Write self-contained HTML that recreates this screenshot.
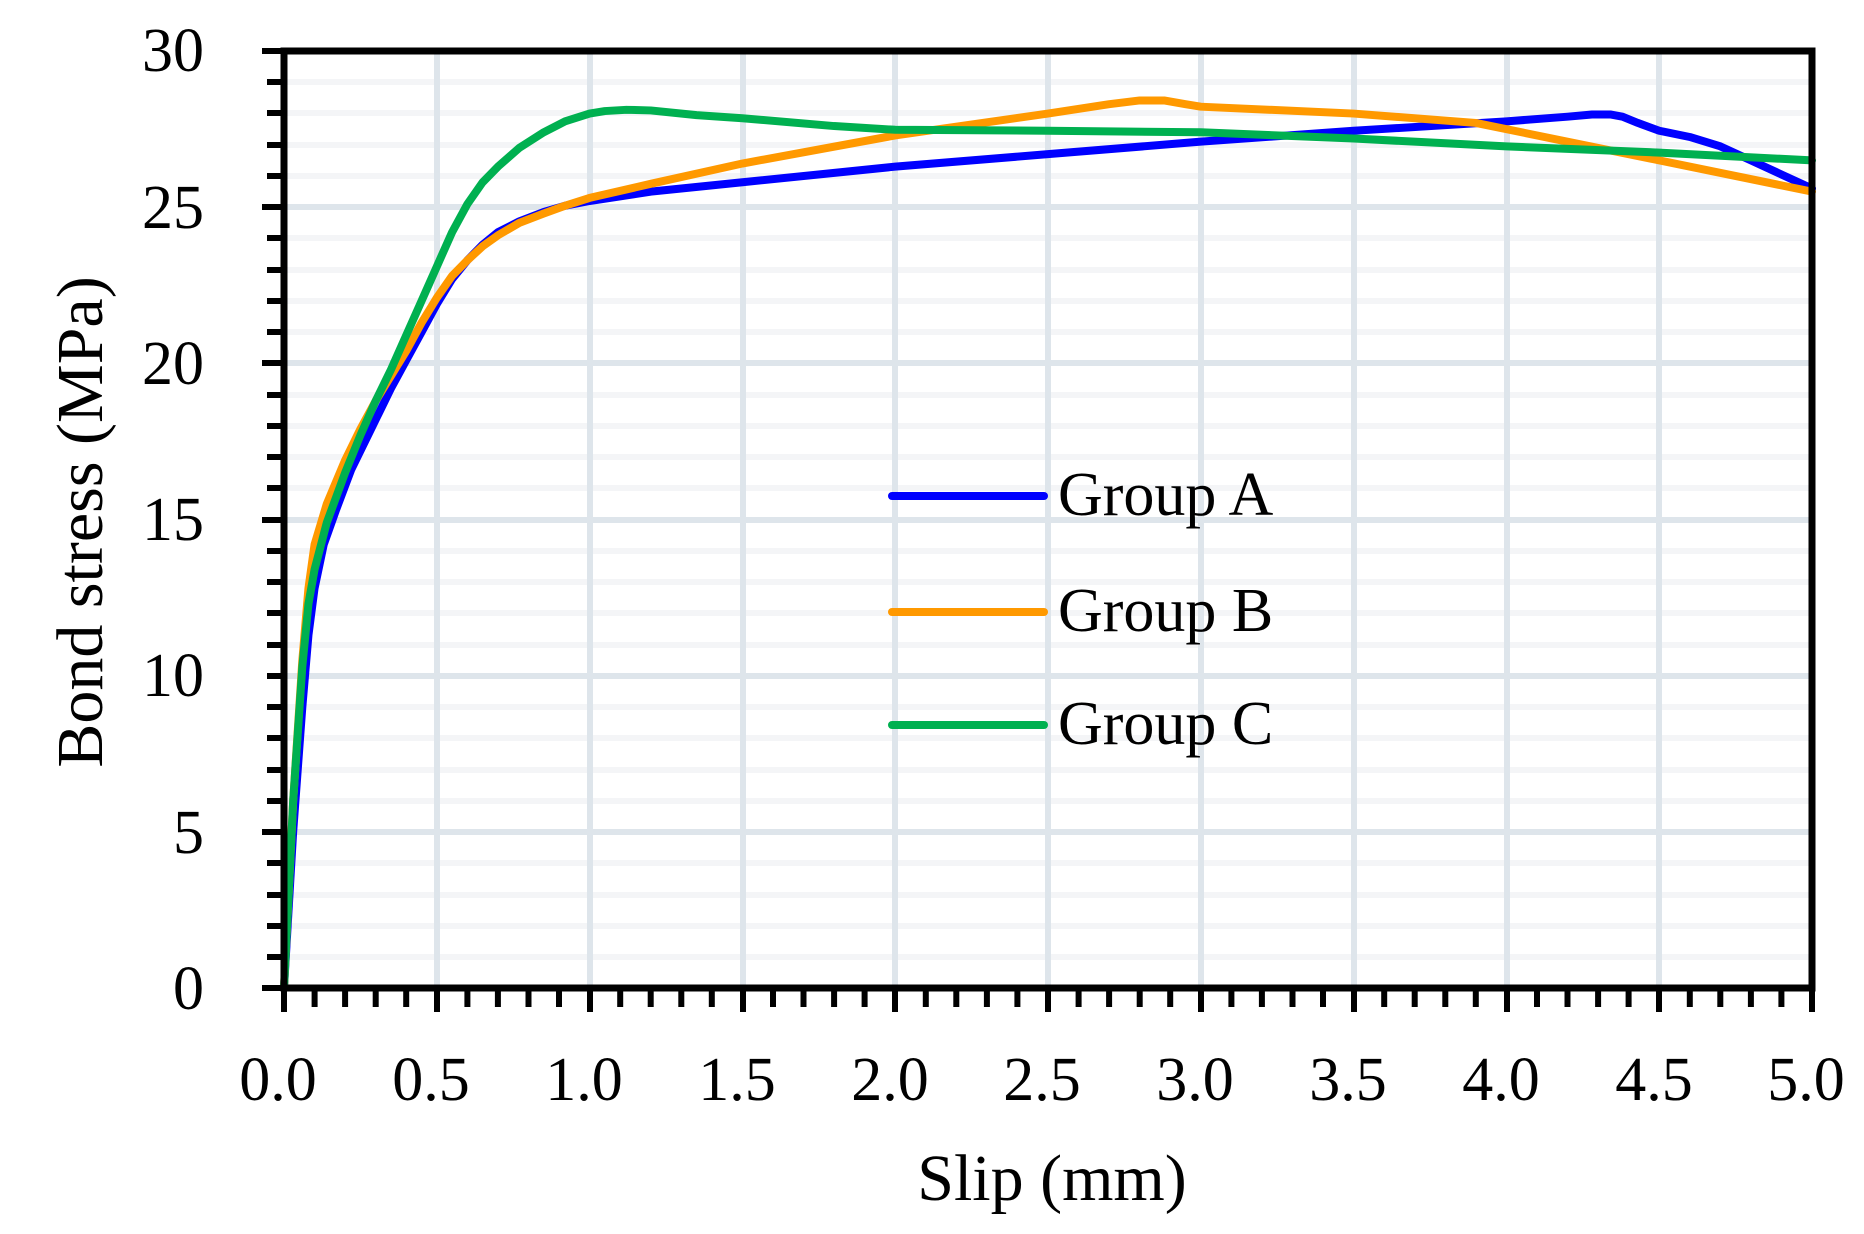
<!DOCTYPE html>
<html><head><meta charset="utf-8"><style>html,body{margin:0;padding:0;background:#fff}svg{display:block}</style></head>
<body>
<svg width="1864" height="1234" viewBox="0 0 1864 1234" xmlns="http://www.w3.org/2000/svg" font-family="'Liberation Serif', serif" fill="#000">
<g stroke="#f4f5f7" stroke-width="6">
<path d="M287 82H1809M287 113H1809M287 145H1809M287 176H1809M287 238H1809M287 270H1809M287 301H1809M287 332H1809M287 395H1809M287 426H1809M287 457H1809M287 488H1809M287 551H1809M287 582H1809M287 613H1809M287 645H1809M287 707H1809M287 738H1809M287 770H1809M287 801H1809M287 863H1809M287 895H1809M287 926H1809M287 957H1809"/>
</g>
<g stroke="#dee5eb" stroke-width="6">
<path d="M287 207H1809M287 363H1809M287 520H1809M287 676H1809M287 832H1809"/>
<path d="M437 54V985M590 54V985M743 54V985M895 54V985M1048 54V985M1201 54V985M1354 54V985M1507 54V985M1659 54V985"/>
</g>
<g fill="none" stroke-width="8" stroke-linejoin="round" stroke-linecap="round">
<g transform="translate(284,988) scale(305.6,-31.23)">
<polyline vector-effect="non-scaling-stroke" stroke="#0000ff" points="0,0 0.03,5 0.06,9 0.08,11.3 0.1,12.8 0.13,14.2 0.17,15.3 0.22,16.6 0.28,17.8 0.35,19.2 0.4,20.1 0.45,21 0.5,21.9 0.55,22.7 0.6,23.3 0.65,23.8 0.7,24.2 0.77,24.55 0.85,24.85 0.92,25.05 1.0,25.2 1.2,25.5 1.5,25.8 2.0,26.3 2.5,26.7 3.0,27.1 3.5,27.45 4.0,27.75 4.2,27.9 4.28,27.97 4.34,27.97 4.38,27.9 4.43,27.7 4.5,27.45 4.6,27.25 4.7,26.95 4.8,26.5 4.9,26.05 5.0,25.6"/>
<polyline vector-effect="non-scaling-stroke" stroke="#ff9900" points="0,0 0.03,6 0.06,10.5 0.08,12.8 0.1,14.2 0.14,15.5 0.2,16.9 0.25,17.9 0.3,18.8 0.35,19.6 0.4,20.4 0.45,21.3 0.5,22.1 0.55,22.8 0.6,23.3 0.65,23.75 0.7,24.1 0.77,24.5 0.85,24.8 0.92,25.05 1.0,25.3 1.2,25.75 1.5,26.4 2.0,27.3 2.5,28 2.7,28.3 2.8,28.42 2.88,28.42 2.95,28.3 3.0,28.22 3.5,28 3.9,27.7 4.3,26.9 5.0,25.5"/>
<polyline vector-effect="non-scaling-stroke" stroke="#00b050" points="0,0 0.03,6 0.06,10.3 0.08,12.3 0.1,13.4 0.14,14.9 0.2,16.5 0.25,17.7 0.3,18.8 0.35,19.8 0.4,20.9 0.45,22 0.5,23.1 0.55,24.2 0.6,25.1 0.65,25.8 0.7,26.3 0.77,26.9 0.85,27.4 0.92,27.75 1.0,28 1.05,28.08 1.12,28.12 1.2,28.1 1.35,27.95 1.5,27.85 1.8,27.6 2.0,27.48 2.5,27.45 3.0,27.4 3.5,27.2 4.0,26.95 4.5,26.75 5.0,26.5"/>
</g>
</g>
<rect x="284" y="51" width="1528" height="937" fill="none" stroke="#000" stroke-width="7"/>
<g stroke="#000" stroke-width="6">
<path d="M262 51H284M267 82H284M267 113H284M267 145H284M267 176H284M262 207H284M267 238H284M267 270H284M267 301H284M267 332H284M262 363H284M267 395H284M267 426H284M267 457H284M267 488H284M262 520H284M267 551H284M267 582H284M267 613H284M267 645H284M267 676H284M267 707H284M267 738H284M267 770H284M267 801H284M262 832H284M267 863H284M267 895H284M267 926H284M267 957H284M262 988H284"/>
</g>
<path stroke="#000" stroke-width="6" d="M284 988V1012M314.6 988V1007M345.1 988V1007M375.7 988V1007M406.2 988V1007M437 988V1012M467.4 988V1007M497.9 988V1007M528.5 988V1007M559 988V1007M590 988V1012M620.2 988V1007M650.7 988V1007M681.3 988V1007M711.8 988V1007M743 988V1012M773 988V1007M803.5 988V1007M834.1 988V1007M864.6 988V1007M895 988V1012M925.8 988V1007M956.3 988V1007M986.9 988V1007M1017.4 988V1007M1048 988V1012M1078.6 988V1007M1109.1 988V1007M1139.7 988V1007M1170.2 988V1007M1201 988V1012M1231.4 988V1007M1261.9 988V1007M1292.5 988V1007M1323 988V1007M1354 988V1012M1384.2 988V1007M1414.7 988V1007M1445.3 988V1007M1475.8 988V1007M1507 988V1012M1537 988V1007M1567.5 988V1007M1598.1 988V1007M1628.6 988V1007M1659 988V1012M1689.8 988V1007M1720.3 988V1007M1750.9 988V1007M1781.4 988V1007M1812 988V1012"/>
<g font-size="62" text-anchor="end">
<text x="204" y="71">30</text><text x="204" y="228">25</text><text x="204" y="384">20</text>
<text x="204" y="540">15</text><text x="204" y="696">10</text><text x="204" y="853">5</text><text x="204" y="1009">0</text>
</g>
<g font-size="62" text-anchor="middle">
<text x="278" y="1100">0.0</text><text x="431" y="1100">0.5</text><text x="584" y="1100">1.0</text>
<text x="737" y="1100">1.5</text><text x="890" y="1100">2.0</text><text x="1042" y="1100">2.5</text>
<text x="1195" y="1100">3.0</text><text x="1348" y="1100">3.5</text><text x="1501" y="1100">4.0</text>
<text x="1654" y="1100">4.5</text><text x="1806" y="1100">5.0</text>
</g>
<text x="1052" y="1200" font-size="66" text-anchor="middle">Slip (mm)</text>
<text transform="translate(102,522) rotate(-90)" font-size="66" text-anchor="middle">Bond stress (MPa)</text>
<g stroke-width="8" stroke-linecap="round">
<line x1="892" y1="496" x2="1044" y2="496" stroke="#0000ff"/>
<line x1="892" y1="612" x2="1044" y2="612" stroke="#ff9900"/>
<line x1="892" y1="725" x2="1044" y2="725" stroke="#00b050"/>
</g>
<g font-size="62">
<text x="1058" y="515">Group A</text>
<text x="1058" y="631">Group B</text>
<text x="1058" y="744">Group C</text>
</g>
</svg>
</body></html>
